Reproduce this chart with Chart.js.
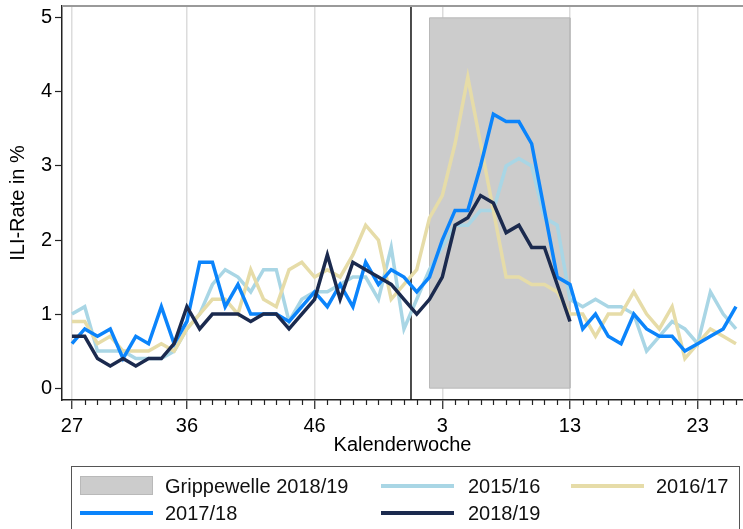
<!DOCTYPE html>
<html>
<head>
<meta charset="utf-8">
<script src="https://cdn.jsdelivr.net/npm/chart.js@4.4.1/dist/chart.umd.min.js"></script>
<style>
  html, body { margin: 0; padding: 0; background: #fff; }
  #wrap {
    position: relative;
    width: 743px;
    height: 529px;
    overflow: hidden;
    font-family: "Liberation Sans", Arial, sans-serif;
  }
  #chart { position: absolute; left: 0; top: 0; }
  #legend {
    position: absolute;
    left: 71px;
    top: 466px;
    width: 669px;
    height: 90px;
    border: 1px solid #555;
    box-sizing: border-box;
  }
  .sw, .tx { position: absolute; }
  .tx { font-size: 20px; line-height: 24px; color: #111; white-space: nowrap; }
</style>
</head>
<body>
<div id="wrap">
  <canvas id="chart" width="743" height="529"></canvas>
  <div id="legend"></div>
</div>
<script>
(function () {
  // Kalenderwochen der Saison (KW 27 bis KW 26 des Folgejahres, mit KW 53)
  const weeks = [
    27, 28, 29, 30, 31, 32, 33, 34, 35, 36, 37, 38, 39, 40, 41, 42, 43, 44,
    45, 46, 47, 48, 49, 50, 51, 52, 53, 1, 2, 3, 4, 5, 6, 7, 8, 9, 10, 11,
    12, 13, 14, 15, 16, 17, 18, 19, 20, 21, 22, 23, 24, 25, 26
  ];
  const tickLabels = ["27", "36", "46", "3", "13", "23"];
  const yTicks = [0, 1, 2, 3, 4, 5];

  // ILI-Rate in % je Saison
  const season1516 = [
    1.0, 1.1, 0.5, 0.5, 0.5, 0.4, 0.4, 0.4, 0.5, 0.8,
    1.0, 1.4, 1.6, 1.5, 1.3, 1.6, 1.6, 0.9, 1.2, 1.3,
    1.3, 1.4, 1.5, 1.5, 1.2, 1.9, 0.8, 1.2, 1.6, 1.9,
    2.2, 2.2, 2.4, 2.4, 3.0, 3.1, 3.0, 2.3, 2.2, 1.2,
    1.1, 1.2, 1.1, 1.1, 1.0, 0.5, 0.7, 0.9, 0.8, 0.6,
    1.3, 1.0, 0.8
  ];
  const season1617 = [
    0.9, 0.9, 0.6, 0.7, 0.5, 0.5, 0.5, 0.6, 0.5, 0.8,
    1.0, 1.2, 1.2, 1.0, 1.6, 1.2, 1.1, 1.6, 1.7, 1.5,
    1.6, 1.5, 1.8, 2.2, 2.0, 1.2, 1.4, 1.6, 2.3, 2.6,
    3.3, 4.2, 3.3, 2.4, 1.5, 1.5, 1.4, 1.4, 1.3, 1.0,
    1.0, 0.7, 1.0, 1.0, 1.3, 1.0, 0.8, 1.1, 0.4, 0.6,
    0.8, 0.7, 0.6
  ];
  const season1718 = [
    0.6, 0.8, 0.7, 0.8, 0.4, 0.7, 0.6, 1.1, 0.6, 0.9,
    1.7, 1.7, 1.1, 1.4, 1.0, 1.0, 1.0, 0.9, 1.1, 1.3,
    1.1, 1.4, 1.1, 1.7, 1.4, 1.6, 1.5, 1.3, 1.5, 2.0,
    2.4, 2.4, 3.0, 3.7, 3.6, 3.6, 3.3, 2.4, 1.5, 1.4,
    0.8, 1.0, 0.7, 0.6, 1.0, 0.8, 0.7, 0.7, 0.5, 0.6,
    0.7, 0.8, 1.1
  ];
  const season1819 = [
    0.7, 0.7, 0.4, 0.3, 0.4, 0.3, 0.4, 0.4, 0.6, 1.1,
    0.8, 1.0, 1.0, 1.0, 0.9, 1.0, 1.0, 0.8, 1.0, 1.2,
    1.8, 1.2, 1.7, 1.6, 1.5, 1.4, 1.2, 1.0, 1.2, 1.5,
    2.2, 2.3, 2.6, 2.5, 2.1, 2.2, 1.9, 1.9, 1.4, 0.9
  ];

  // Grippewelle 2018/19: KW 2 bis KW 13
  const waveWeeks = [2, 13];
  const waveTop = 5;
  // Jahreswechsel zwischen KW 53 und KW 1
  const yearBreak = 26.55;

  const yMin = -0.16;
  const yMax = 5.16;

  const colors = {
    wave: "#cccccc",
    waveBorder: "#b9b9b9",
    s1516: "#a9d6e5",
    s1617: "#e6dca8",
    s1718: "#0b84fb",
    s1819: "#1b2a4e",
  };

  function points(values) {
    return values.map(function (v, i) {
      return { x: i, y: v };
    });
  }

  function isMajor(value) {
    return tickLabels.indexOf(String(weeks[value])) !== -1;
  }

  const wFrom = weeks.indexOf(waveWeeks[0]);
  const wTo = weeks.indexOf(waveWeeks[1]);

  const extras = {
    id: "extras",
    afterDraw(chart) {
      const ctx = chart.ctx;
      const xs = chart.scales.x;
      const a = chart.chartArea;
      ctx.save();
      // kleine Wochenstriche
      ctx.strokeStyle = "#222";
      ctx.lineWidth = 1.2;
      xs.ticks.forEach(function (t) {
        if (isMajor(t.value)) return;
        const px = Math.round(xs.getPixelForValue(t.value)) + 0.5;
        ctx.beginPath();
        ctx.moveTo(px, a.bottom);
        ctx.lineTo(px, a.bottom + 5);
        ctx.stroke();
      });
      // oberer Rahmen
      ctx.strokeStyle = "#9a9a9a";
      ctx.lineWidth = 2;
      ctx.beginPath();
      ctx.moveTo(a.left, a.top);
      ctx.lineTo(a.right, a.top);
      ctx.stroke();
      ctx.restore();
    },
  };

  const chart = new Chart(document.getElementById("chart"), {
    type: "line",
    data: {
      datasets: [
        {
          label: "Grippewelle 2018/19",
          legendBox: true,
          data: [
            { x: wFrom, y: 0 },
            { x: wFrom, y: waveTop },
            { x: wTo, y: waveTop },
            { x: wTo, y: 0 },
            { x: wFrom, y: 0 },
          ],
          fill: "shape",
          backgroundColor: colors.wave,
          borderColor: colors.waveBorder,
          borderWidth: 1,
          order: 6,
        },
        {
          label: "2015/16",
          data: points(season1516),
          borderColor: colors.s1516,
          borderWidth: 3.5,
          fill: false,
          order: 4,
        },
        {
          label: "2016/17",
          data: points(season1617),
          borderColor: colors.s1617,
          borderWidth: 3.5,
          fill: false,
          order: 3,
        },
        {
          label: "2017/18",
          data: points(season1718),
          borderColor: colors.s1718,
          borderWidth: 3.5,
          fill: false,
          order: 2,
        },
        {
          label: "2018/19",
          data: points(season1819),
          borderColor: colors.s1819,
          borderWidth: 3.5,
          fill: false,
          order: 1,
        },
        {
          label: "",
          data: [
            { x: yearBreak, y: yMin },
            { x: yearBreak, y: yMax },
          ],
          borderColor: "#111",
          borderWidth: 1.5,
          fill: false,
          order: 5,
        },
      ],
    },
    options: {
      responsive: false,
      animation: false,
      layout: { padding: { top: 6, bottom: 72, left: 0, right: 0 } },
      elements: {
        point: { radius: 0, hoverRadius: 0 },
        line: { tension: 0 },
      },
      font: { family: '"Liberation Sans", Arial, sans-serif' },
      plugins: {
        legend: { display: false },
        tooltip: { enabled: false },
      },
      scales: {
        x: {
          type: "linear",
          min: -0.78,
          max: 52.55,
          afterBuildTicks: function (s) {
            s.ticks = weeks.map(function (w, i) {
              return { value: i };
            });
          },
          afterFit: function (s) {
            s.height = 57;
            s.paddingLeft = 0;
            s.paddingRight = 0;
          },
          ticks: {
            autoSkip: false,
            maxRotation: 0,
            minRotation: 0,
            padding: 5,
            color: "#000",
            font: { size: 20, family: '"Liberation Sans", Arial, sans-serif' },
            callback: function (value) {
              return isMajor(value) ? String(weeks[value]) : "";
            },
          },
          grid: {
            color: function (c) {
              return c.tick && isMajor(c.tick.value) ? "#dcdcdc" : "rgba(0,0,0,0)";
            },
            lineWidth: 1.5,
            tickColor: function (c) {
              return c.tick && isMajor(c.tick.value) ? "#222" : "rgba(0,0,0,0)";
            },
            tickLength: 9,
            tickWidth: 1.2,
          },
          border: { color: "#222", width: 1.5 },
          title: {
            display: true,
            text: "Kalenderwoche",
            color: "#000",
            font: { size: 20, family: '"Liberation Sans", Arial, sans-serif' },
            padding: { top: 0, bottom: 0 },
          },
        },
        y: {
          min: yMin,
          max: yMax,
          afterBuildTicks: function (s) {
            s.ticks = yTicks.map(function (v) {
              return { value: v };
            });
          },
          afterFit: function (s) {
            s.width = 62;
            s.paddingTop = 0;
            s.paddingBottom = 0;
          },
          ticks: {
            padding: 3,
            color: "#000",
            font: { size: 20, family: '"Liberation Sans", Arial, sans-serif' },
          },
          grid: {
            drawOnChartArea: false,
            drawTicks: true,
            tickLength: 7,
            tickColor: "#222",
            tickWidth: 1.2,
          },
          border: { color: "#222", width: 1.5 },
          title: {
            display: true,
            text: "ILI-Rate in %",
            color: "#000",
            font: { size: 20, family: '"Liberation Sans", Arial, sans-serif' },
            padding: { top: 6, bottom: 0 },
          },
        },
      },
    },
    plugins: [extras],
  });

  // Legende als HTML, aus den Datensätzen erzeugt
  const legend = document.getElementById("legend");
  const swatchX = [8, 309, 499];
  const textX = [93, 396, 584];
  const rowY = [19, 46];
  chart.data.datasets
    .filter(function (d) {
      return d.label;
    })
    .forEach(function (d, i) {
      const col = i % 3;
      const row = Math.floor(i / 3);
      const sw = document.createElement("div");
      sw.className = "sw";
      sw.style.left = swatchX[col] + "px";
      sw.style.width = "73px";
      if (d.legendBox) {
        sw.style.top = rowY[row] - 10 + "px";
        sw.style.height = "19px";
        sw.style.background = d.backgroundColor;
        sw.style.boxSizing = "border-box";
        sw.style.border = "1px solid " + d.borderColor;
      } else {
        sw.style.top = rowY[row] - 2 + "px";
        sw.style.height = "4px";
        sw.style.background = d.borderColor;
      }
      legend.appendChild(sw);
      const tx = document.createElement("div");
      tx.className = "tx";
      tx.style.left = textX[col] + "px";
      tx.style.top = rowY[row] - 12 + "px";
      tx.textContent = d.label;
      legend.appendChild(tx);
    });
})();
</script>
</body>
</html>
